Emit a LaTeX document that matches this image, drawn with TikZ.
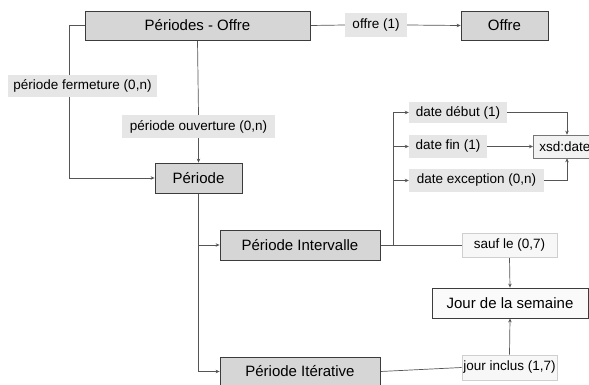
\documentclass[tikz,border=0pt]{standalone}
\usepackage{fontspec}
\setmainfont{Liberation Sans}
\usetikzlibrary{arrows.meta,backgrounds,calc}
\definecolor{boxfill}{HTML}{D6D6D6}
\definecolor{boxline}{HTML}{3C3C3C}
\definecolor{tagfill}{HTML}{E6E6E6}
\definecolor{wirecol}{HTML}{555555}
\definecolor{paleline}{HTML}{CFCFCF}
\begin{document}
\begin{tikzpicture}[x=1pt,y=-1pt,
  mainbox/.style={draw=boxline,fill=boxfill,line width=0.8pt,inner sep=0pt,
    font=\fontsize{15}{17}\selectfont},
  tagbox/.style={fill=tagfill,inner sep=0pt,font=\fontsize{13.5}{15}\selectfont},
  palebox/.style={draw=paleline,fill=white!97!black,line width=0.6pt,inner sep=0pt,
    font=\fontsize{13.5}{15}\selectfont},
  whitebox/.style={draw=boxline,fill=white!98!black,line width=0.8pt,inner sep=0pt,
    font=\fontsize{15}{17}\selectfont},
  typebox/.style={draw=boxline!70,fill=white!95!black,line width=0.6pt,inner sep=0pt,
    font=\fontsize{13.5}{15}\selectfont},
  wire/.style={draw=wirecol,line width=0.7pt},
  arr/.style={wire,-{Stealth[length=4pt,width=3.5pt]}}]
\useasboundingbox (0,0) rectangle (589,385);

% classes
\node[mainbox,minimum width=225,minimum height=29] (po) at (197.5,25.5) {Périodes - Offre};
\node[mainbox,minimum width=87,minimum height=29] (offre) at (504.5,25.5) {Offre};
\node[mainbox,minimum width=87,minimum height=30] (periode) at (198.5,178) {Période};
\node[mainbox,minimum width=160,minimum height=30] (pint) at (300,245) {Période Intervalle};
\node[mainbox,minimum width=160,minimum height=29] (pit) at (300,371.5) {Période Itérative};
\node[whitebox,minimum width=156,minimum height=30] (jour) at (510,303) {Jour de la semaine};
\node[typebox,anchor=west,minimum height=23,text width=62,inner xsep=6,align=left] (xsd) at (533,146.5) {xsd:date};

% property labels
\node[tagbox,minimum width=62,minimum height=24] (offre1) at (376,25) {offre (1)};
\node[tagbox,minimum width=149,minimum height=22] (pferm) at (82.5,86) {période fermeture (0,n)};
\node[tagbox,minimum width=153,minimum height=23] (pouv) at (198.5,126.5) {période ouverture (0,n)};
\node[tagbox,minimum width=98,minimum height=21] (ddeb) at (458,112.5) {date début (1)};
\node[tagbox,minimum width=78,minimum height=23] (dfin) at (448,146.5) {date fin (1)};
\node[tagbox,minimum width=135,minimum height=23] (dexc) at (476.5,180.5) {date exception (0,n)};
\node[palebox,minimum width=95,minimum height=24] (sauf) at (509.5,245) {sauf le (0,7)};
\node[palebox,minimum width=95,minimum height=25] (jinc) at (509.5,367.5) {jour inclus (1,7)};

\coordinate (fork) at (393,245);

\begin{scope}[on background layer]
  % Périodes - Offre -> Offre
  \draw[wire] (po.east) -- (offre1.west);
  \draw[arr] (offre1.east) -- (offre.west);
  % fermeture / ouverture
  \draw[arr] (po.west) -- ++(-15,0) |- (periode.west);
  \draw[wire] (po.south) -- (pouv.north);
  \draw[arr] (pouv.south) -- (periode.north);
  % specialisations
  \draw[arr] (periode.south) |- (pit.west);
  \draw[arr] (periode.south |- pint.west) -- (pint.west);
  % interval dates
  \draw[wire] (pint.east) -- (sauf.west);
  \draw[arr] (fork) |- (ddeb.west);
  \draw[arr] (fork |- dfin.west) -- (dfin.west);
  \draw[arr] (fork |- dexc.west) -- (dexc.west);
  \draw[arr] (ddeb.east) -| ($(xsd.north west)+(34,0)$);
  \draw[arr] (dfin.east) -- (xsd.west);
  \draw[arr] (dexc.east) -| ($(xsd.south west)+(34,0)$);
  % days of week
  \draw[arr] (sauf.south) -- (jour.north);
  \draw[wire] (pit.east) -- (jinc.west);
  \draw[arr] (jinc.north) -- (jour.south);
\end{scope}
\end{tikzpicture}
\end{document}
